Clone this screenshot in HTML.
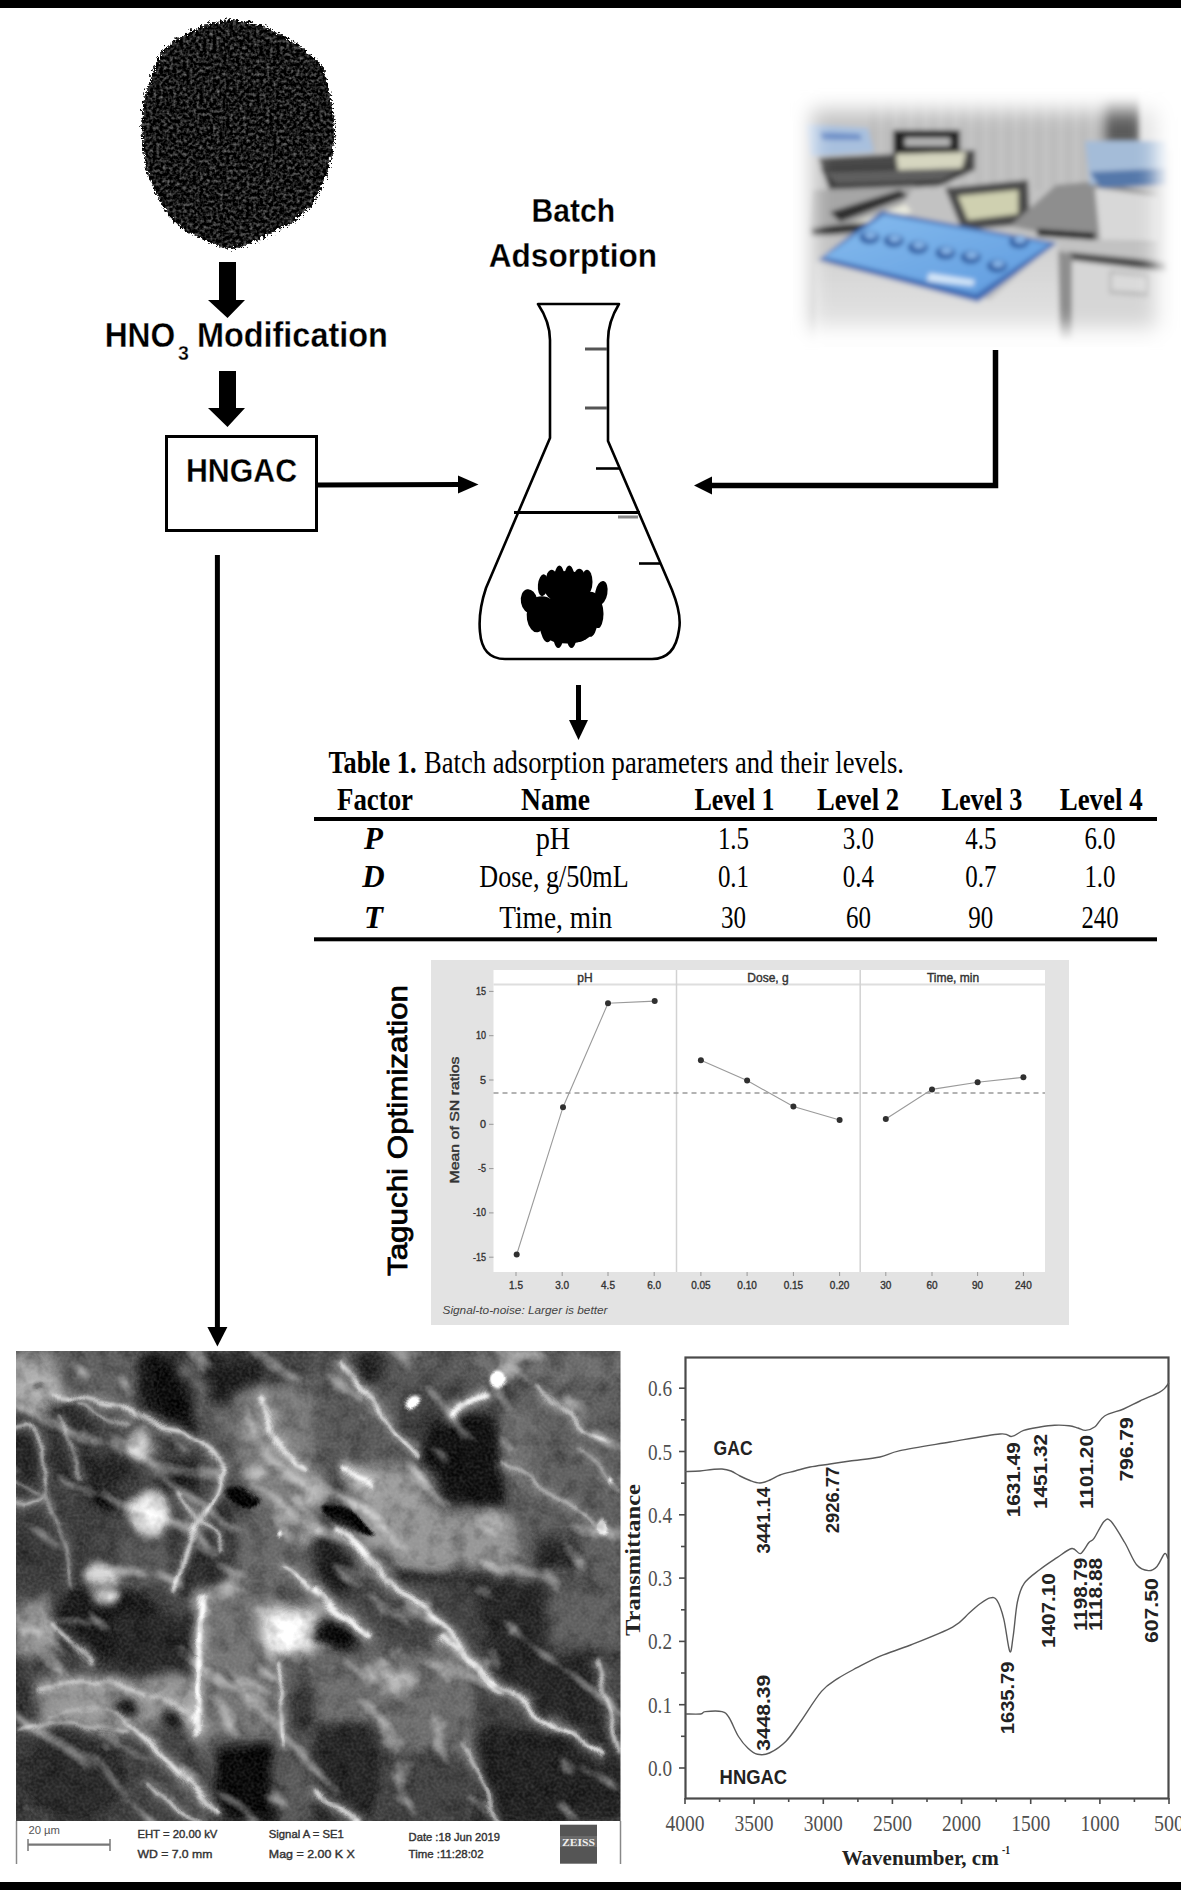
<!DOCTYPE html>
<html><head><meta charset="utf-8">
<style>
html,body{margin:0;padding:0;background:#fff;}
body{width:1181px;height:1890px;overflow:hidden;position:relative;}
svg{position:absolute;left:0;top:0;display:block;}
text{font-family:"Liberation Sans",sans-serif;}
.sf{font-family:"Liberation Serif",serif;}
</style></head>
<body>
<svg width="1181" height="1890" viewBox="0 0 1181 1890">
<rect x="0" y="0" width="1181" height="1890" fill="#fff"/>
<defs>
<filter id="rough" x="-10%" y="-10%" width="120%" height="120%">
<feTurbulence type="turbulence" baseFrequency="0.25" numOctaves="2" seed="3" result="t"/>
<feDisplacementMap in="SourceGraphic" in2="t" scale="7" xChannelSelector="R" yChannelSelector="G"/>
</filter>
<filter id="speck" x="0" y="0" width="100%" height="100%" color-interpolation-filters="sRGB">
<feTurbulence type="fractalNoise" baseFrequency="0.3" numOctaves="2" seed="11" result="n"/>
<feColorMatrix in="n" type="matrix" values="0.9 0 0 0 -0.36  0.9 0 0 0 -0.36  0.9 0 0 0 -0.36  0 0 0 0 1" result="g"/>
<feGaussianBlur in="g" stdDeviation="0.7" result="gb"/>
<feComposite in="gb" in2="SourceAlpha" operator="in"/>
</filter>
</defs>
<g filter="url(#rough)"><path d="M227.7,18.1 L246.0,20.2 L262.3,24.2 L282.6,34.4 L302.9,48.6 L321.2,64.9 L329.3,95.4 L333.4,132.0 L329.3,156.3 L325.3,172.6 L311.1,203.1 L294.8,217.3 L274.5,229.5 L250.1,241.7 L227.7,247.8 L205.4,239.7 L181.0,227.5 L164.7,211.2 L154.6,192.9 L144.4,168.5 L140.3,142.1 L139.3,119.8 L142.4,95.4 L150.5,71.0 L160.7,48.6 L174.9,36.4 L191.1,28.3 L209.4,21.2 Z" fill="#111111"/></g>
<g filter="url(#speck)"><g filter="url(#rough)"><path d="M227.7,18.1 L246.0,20.2 L262.3,24.2 L282.6,34.4 L302.9,48.6 L321.2,64.9 L329.3,95.4 L333.4,132.0 L329.3,156.3 L325.3,172.6 L311.1,203.1 L294.8,217.3 L274.5,229.5 L250.1,241.7 L227.7,247.8 L205.4,239.7 L181.0,227.5 L164.7,211.2 L154.6,192.9 L144.4,168.5 L140.3,142.1 L139.3,119.8 L142.4,95.4 L150.5,71.0 L160.7,48.6 L174.9,36.4 L191.1,28.3 L209.4,21.2 Z" fill="#000"/></g></g>
<defs>
<filter id="bblur" x="-20%" y="-20%" width="140%" height="140%"><feGaussianBlur stdDeviation="2.8"/></filter>
<filter id="bblur2" x="-20%" y="-20%" width="140%" height="140%"><feGaussianBlur stdDeviation="5"/></filter>
<filter id="vig" x="-30%" y="-30%" width="160%" height="160%"><feGaussianBlur stdDeviation="10"/></filter>
<mask id="bmask"><rect x="770" y="80" width="420" height="280" fill="#000"/><rect x="812" y="110" width="344" height="218" fill="#fff" filter="url(#vig)"/></mask>
<linearGradient id="bodyg" x1="0" y1="0" x2="0" y2="1"><stop offset="0" stop-color="#cfcfcf"/><stop offset="1" stop-color="#e8e8e8"/></linearGradient>
<linearGradient id="lidg" x1="0" y1="0" x2="1" y2="1"><stop offset="0" stop-color="#86bcee"/><stop offset="1" stop-color="#5e9ade"/></linearGradient>
</defs>
<g mask="url(#bmask)"><g filter="url(#bblur)">
<rect x="790" y="90" width="390" height="260" fill="#c2c2c2"/>
<rect x="870" y="90" width="7" height="100" fill="#bcbcbc"/>
<rect x="885" y="90" width="7" height="100" fill="#bcbcbc"/>
<rect x="900" y="90" width="7" height="100" fill="#bcbcbc"/>
<rect x="915" y="90" width="7" height="100" fill="#bcbcbc"/>
<rect x="930" y="90" width="7" height="100" fill="#bcbcbc"/>
<rect x="945" y="90" width="7" height="100" fill="#bcbcbc"/>
<rect x="960" y="90" width="7" height="100" fill="#bcbcbc"/>
<rect x="975" y="90" width="7" height="100" fill="#bcbcbc"/>
<rect x="990" y="90" width="7" height="100" fill="#bcbcbc"/>
<rect x="1005" y="90" width="7" height="100" fill="#bcbcbc"/>
<rect x="1020" y="90" width="7" height="100" fill="#bcbcbc"/>
<rect x="1035" y="90" width="7" height="100" fill="#bcbcbc"/>
<rect x="1050" y="90" width="7" height="100" fill="#bcbcbc"/>
<rect x="1065" y="90" width="7" height="100" fill="#bcbcbc"/>
<rect x="1080" y="90" width="7" height="100" fill="#bcbcbc"/>
<rect x="1095" y="90" width="7" height="100" fill="#bcbcbc"/>
<polygon points="1105,95 1140,95 1140,145 1105,145" fill="#5a5a5a" filter="url(#bblur2)"/>
<polygon points="1140,90 1180,90 1180,150 1140,150" fill="#e4e4e4"/>
<polygon points="805,124 868,128 874,152 810,156" fill="#a8c0de"/>
<polygon points="820,132 860,134 862,140 822,140" fill="#6e90c8"/>
<polygon points="818,158 975,150 975,170 940,186 830,192" fill="#4a4a4a"/>
<polygon points="820,168 972,164 945,184 832,190" fill="#3a3a3a"/>
<polygon points="826,172 962,168 942,180 836,184" fill="#5e5e5e"/>
<polygon points="893,130 960,130 960,156 893,156" fill="#202020"/>
<polygon points="905,138 950,138 950,146 905,146" fill="#b4b4b4"/>
<polygon points="896,154 966,152 962,168 898,170" fill="#d6d6c0"/>
<polygon points="812,190 915,186 880,236 808,236" fill="#a6a6a6"/>
<polygon points="830,212 900,190 908,196 840,222" fill="#2e2e2e"/>
<polygon points="845,226 905,204 912,212 860,232" fill="#e8e8dc"/>
<polygon points="810,228 870,222 872,230 812,236" fill="#2a2a2a"/>
<polygon points="945,188 1028,180 1030,224 962,230" fill="#4a4a4a"/>
<polygon points="958,196 1018,190 1018,214 968,220" fill="#cfd0b0"/>
<polygon points="1010,226 1056,185 1098,181 1158,195 1158,243 1098,240 1038,232" fill="#8e8e8e"/>
<polygon points="1095,188 1158,196 1158,242 1100,240" fill="#d8d8d8"/>
<polygon points="1037,229 1095,233 1095,240 1037,236" fill="#1e1e1e"/>
<polygon points="1085,141 1168,141 1168,178 1090,185" fill="#a4bcd8"/>
<polygon points="1090,172 1168,168 1168,185 1100,188" fill="#5478aa"/>
<polygon points="1068,255 1168,262 1168,340 1068,340" fill="#d6d6d6"/>
<polygon points="1068,252 1168,262 1168,272 1070,260" fill="#4a4a4a"/>
<polygon points="1109,270 1149,274 1149,297 1109,294" fill="#bcbcbc"/>
<polygon points="1112,274 1146,277 1146,292 1112,290" fill="#dadada"/>
<polygon points="1056,250 1072,254 1072,340 1056,340" fill="#8e8e8e"/>
<polygon points="815,262 990,300 1058,240 1060,345 815,345" fill="url(#bodyg)"/>
<polygon points="818,260 882,211 1057,243 978,302" fill="#3f6cb4"/>
<polygon points="824,257 884,215 1050,244 976,294" fill="url(#lidg)"/>
<polygon points="929,273 975,280 973,286 927,281" fill="#d4e6f8"/>
<ellipse cx="869.4" cy="237.4" rx="10" ry="6.5" fill="#2c5aa0"/>
<ellipse cx="870.4" cy="235.4" rx="6" ry="3.5" fill="#8ab8ea"/>
<ellipse cx="893.7" cy="240.7" rx="10" ry="6.5" fill="#2c5aa0"/>
<ellipse cx="894.7" cy="238.7" rx="6" ry="3.5" fill="#8ab8ea"/>
<ellipse cx="917.9" cy="247.3" rx="10" ry="6.5" fill="#2c5aa0"/>
<ellipse cx="918.9" cy="245.3" rx="6" ry="3.5" fill="#8ab8ea"/>
<ellipse cx="945.4" cy="252.8" rx="10" ry="6.5" fill="#2c5aa0"/>
<ellipse cx="946.4" cy="250.8" rx="6" ry="3.5" fill="#8ab8ea"/>
<ellipse cx="970.7" cy="257.2" rx="10" ry="6.5" fill="#2c5aa0"/>
<ellipse cx="971.7" cy="255.2" rx="6" ry="3.5" fill="#8ab8ea"/>
<ellipse cx="997" cy="266" rx="10" ry="6.5" fill="#2c5aa0"/>
<ellipse cx="998" cy="264" rx="6" ry="3.5" fill="#8ab8ea"/>
<ellipse cx="1019" cy="241.8" rx="10" ry="6.5" fill="#2c5aa0"/>
<ellipse cx="1020" cy="239.8" rx="6" ry="3.5" fill="#8ab8ea"/>
</g></g>
<!-- block arrows -->
<polygon points="219,262 236,262 236,300 245,300 227.5,318 208,300 219,300" fill="#000"/>
<polygon points="219,371 236,371 236,408 245,408 227.5,427 208,408 219,408" fill="#000"/>

<text x="104.7" y="347" font-size="34.5" font-weight="bold" textLength="70.5" lengthAdjust="spacingAndGlyphs" stroke="#fff" stroke-width="0.3">HNO</text>
<text x="177.9" y="359.7" font-size="21" font-weight="bold" textLength="10.9" lengthAdjust="spacingAndGlyphs" stroke="#fff" stroke-width="0.3">3</text>
<text x="196.9" y="347" font-size="34.5" font-weight="bold" textLength="191" lengthAdjust="spacingAndGlyphs" stroke="#fff" stroke-width="0.3">Modification</text>

<rect x="166.5" y="436.5" width="150" height="94" fill="none" stroke="#000" stroke-width="3"/>
<text x="186" y="482" font-size="34" font-weight="bold" textLength="111" lengthAdjust="spacingAndGlyphs" stroke="#fff" stroke-width="0.3">HNGAC</text>

<line x1="318" y1="485" x2="462" y2="484.5" stroke="#000" stroke-width="5"/>
<polygon points="458,475.5 478.5,484.5 458,493.5" fill="#000"/>
<line x1="217.4" y1="555" x2="217.4" y2="1328" stroke="#000" stroke-width="5"/>
<polygon points="207.4,1327 227.4,1327 217.4,1346.5" fill="#000"/>

<polyline points="995.5,350 995.5,485.5 708,485.5" fill="none" stroke="#000" stroke-width="5.5"/>
<polygon points="712,476.5 694,485.5 712,494.5" fill="#000"/>

<text x="531.5" y="221.5" font-size="33" font-weight="bold" textLength="83.6" lengthAdjust="spacingAndGlyphs" stroke="#fff" stroke-width="0.3">Batch</text>
<text x="488.8" y="267.3" font-size="33" font-weight="bold" textLength="168.2" lengthAdjust="spacingAndGlyphs" stroke="#fff" stroke-width="0.3">Adsorption</text>

<g fill="none" stroke="#000" stroke-width="2.6" stroke-linejoin="round">
<path d="M538,304 L619,304 Q608,322 608,340 L608,441 L672,590 Q682,615 679,630 Q675,659 652,659 L505,659 Q482,659 480,632 Q478,612 486,588 L550,438 L550,340 Q550,322 538,304 Z"/>
<line x1="514" y1="512.5" x2="640" y2="512.5" stroke-width="3.2"/>
<line x1="585" y1="349" x2="607" y2="349" stroke="#555" stroke-width="3"/>
<line x1="585" y1="408" x2="607" y2="408" stroke="#555" stroke-width="3"/>
<line x1="596" y1="468.5" x2="620" y2="468.5" stroke-width="2.6"/>
<line x1="618" y1="517" x2="638" y2="517" stroke="#888" stroke-width="3"/>
<line x1="639" y1="563.5" x2="660" y2="563.5" stroke-width="2.6"/>
</g>
<g fill="#000">
<ellipse cx="564.9" cy="614.9" rx="36.3" ry="16.5"/>
<ellipse cx="567.1" cy="629.3" rx="26.4" ry="14.3"/>
<ellipse cx="567.1" cy="587.4" rx="23.1" ry="16.5"/>
<ellipse cx="541.8" cy="607.2" rx="13.2" ry="11.0"/>
<ellipse cx="590.3" cy="605.0" rx="11.0" ry="13.2"/>
<ellipse cx="529.2" cy="601.2" rx="8.3" ry="12.1" transform="rotate(-10 529.2 601.2)"/>
<ellipse cx="542.9" cy="585.2" rx="5.0" ry="11.0" transform="rotate(5 542.9 585.2)"/>
<ellipse cx="551.7" cy="581.9" rx="6.1" ry="12.1" transform="rotate(0 551.7 581.9)"/>
<ellipse cx="559.4" cy="586.3" rx="6.1" ry="20.9" transform="rotate(0 559.4 586.3)"/>
<ellipse cx="569.3" cy="586.3" rx="6.1" ry="20.9" transform="rotate(0 569.3 586.3)"/>
<ellipse cx="579.3" cy="583.0" rx="6.6" ry="14.3" transform="rotate(0 579.3 583.0)"/>
<ellipse cx="587.0" cy="581.9" rx="5.5" ry="12.1" transform="rotate(0 587.0 581.9)"/>
<ellipse cx="601.3" cy="592.9" rx="6.1" ry="12.1" transform="rotate(10 601.3 592.9)"/>
<ellipse cx="535.2" cy="618.2" rx="8.3" ry="14.3" transform="rotate(-10 535.2 618.2)"/>
<ellipse cx="546.2" cy="624.8" rx="6.6" ry="17.6" transform="rotate(-5 546.2 624.8)"/>
<ellipse cx="558.3" cy="627.1" rx="6.1" ry="20.9" transform="rotate(0 558.3 627.1)"/>
<ellipse cx="571.5" cy="627.1" rx="6.1" ry="20.9" transform="rotate(0 571.5 627.1)"/>
<ellipse cx="581.5" cy="622.6" rx="6.6" ry="18.7" transform="rotate(0 581.5 622.6)"/>
<ellipse cx="591.4" cy="620.4" rx="6.6" ry="16.5" transform="rotate(5 591.4 620.4)"/>
<ellipse cx="598.0" cy="613.8" rx="5.5" ry="14.3" transform="rotate(0 598.0 613.8)"/>
<ellipse cx="566.0" cy="605.0" rx="16.5" ry="22.0" transform="rotate(0 566.0 605.0)"/>
</g>
<line x1="578.5" y1="685" x2="578.5" y2="724" stroke="#000" stroke-width="5"/>
<polygon points="569,720 588,720 578.5,740" fill="#000"/>
<text x="328.5" y="773" font-size="31" font-weight="bold" font-style="normal" fill="#000" text-anchor="start" textLength="88" lengthAdjust="spacingAndGlyphs" class="sf">Table 1.</text>
<text x="424" y="773" font-size="31" font-weight="normal" font-style="normal" fill="#000" text-anchor="start" textLength="480" lengthAdjust="spacingAndGlyphs" class="sf">Batch adsorption parameters and their levels.</text>
<text x="337" y="810" font-size="31" font-weight="bold" font-style="normal" fill="#000" text-anchor="start" textLength="76" lengthAdjust="spacingAndGlyphs" class="sf">Factor</text>
<text x="521" y="810" font-size="31" font-weight="bold" font-style="normal" fill="#000" text-anchor="start" textLength="69" lengthAdjust="spacingAndGlyphs" class="sf">Name</text>
<text x="694.5" y="810" font-size="31" font-weight="bold" font-style="normal" fill="#000" text-anchor="start" textLength="80.1" lengthAdjust="spacingAndGlyphs" class="sf">Level 1</text>
<text x="817" y="810" font-size="31" font-weight="bold" font-style="normal" fill="#000" text-anchor="start" textLength="82" lengthAdjust="spacingAndGlyphs" class="sf">Level 2</text>
<text x="941.4" y="810" font-size="31" font-weight="bold" font-style="normal" fill="#000" text-anchor="start" textLength="80.9" lengthAdjust="spacingAndGlyphs" class="sf">Level 3</text>
<text x="1059.7" y="810" font-size="31" font-weight="bold" font-style="normal" fill="#000" text-anchor="start" textLength="82.9" lengthAdjust="spacingAndGlyphs" class="sf">Level 4</text>
<rect x="314" y="817" width="843" height="4" fill="#000"/>
<rect x="314" y="937.3" width="843" height="4" fill="#000"/>
<text x="373.5" y="849" font-size="31" font-weight="bold" font-style="italic" fill="#000" text-anchor="middle" class="sf">P</text>
<text x="535.7" y="849" font-size="31" font-weight="normal" font-style="normal" fill="#000" text-anchor="start" textLength="34.6" lengthAdjust="spacingAndGlyphs" class="sf">pH</text>
<text x="733.5" y="849" font-size="31" font-weight="normal" font-style="normal" fill="#000" text-anchor="middle" textLength="31.2" lengthAdjust="spacingAndGlyphs" class="sf">1.5</text>
<text x="858.4" y="849" font-size="31" font-weight="normal" font-style="normal" fill="#000" text-anchor="middle" textLength="31.2" lengthAdjust="spacingAndGlyphs" class="sf">3.0</text>
<text x="980.8" y="849" font-size="31" font-weight="normal" font-style="normal" fill="#000" text-anchor="middle" textLength="31.2" lengthAdjust="spacingAndGlyphs" class="sf">4.5</text>
<text x="1100" y="849" font-size="31" font-weight="normal" font-style="normal" fill="#000" text-anchor="middle" textLength="31.2" lengthAdjust="spacingAndGlyphs" class="sf">6.0</text>
<text x="373.5" y="886.5" font-size="31" font-weight="bold" font-style="italic" fill="#000" text-anchor="middle" class="sf">D</text>
<text x="479.3" y="886.5" font-size="31" font-weight="normal" font-style="normal" fill="#000" text-anchor="start" textLength="149.3" lengthAdjust="spacingAndGlyphs" class="sf">Dose, g/50mL</text>
<text x="733.5" y="886.5" font-size="31" font-weight="normal" font-style="normal" fill="#000" text-anchor="middle" textLength="31.2" lengthAdjust="spacingAndGlyphs" class="sf">0.1</text>
<text x="858.4" y="886.5" font-size="31" font-weight="normal" font-style="normal" fill="#000" text-anchor="middle" textLength="31.2" lengthAdjust="spacingAndGlyphs" class="sf">0.4</text>
<text x="980.8" y="886.5" font-size="31" font-weight="normal" font-style="normal" fill="#000" text-anchor="middle" textLength="31.2" lengthAdjust="spacingAndGlyphs" class="sf">0.7</text>
<text x="1100" y="886.5" font-size="31" font-weight="normal" font-style="normal" fill="#000" text-anchor="middle" textLength="31.2" lengthAdjust="spacingAndGlyphs" class="sf">1.0</text>
<text x="373.5" y="928" font-size="31" font-weight="bold" font-style="italic" fill="#000" text-anchor="middle" class="sf">T</text>
<text x="499.3" y="928" font-size="31" font-weight="normal" font-style="normal" fill="#000" text-anchor="start" textLength="112.9" lengthAdjust="spacingAndGlyphs" class="sf">Time, min</text>
<text x="733.5" y="928" font-size="31" font-weight="normal" font-style="normal" fill="#000" text-anchor="middle" textLength="25" lengthAdjust="spacingAndGlyphs" class="sf">30</text>
<text x="858.4" y="928" font-size="31" font-weight="normal" font-style="normal" fill="#000" text-anchor="middle" textLength="25" lengthAdjust="spacingAndGlyphs" class="sf">60</text>
<text x="980.8" y="928" font-size="31" font-weight="normal" font-style="normal" fill="#000" text-anchor="middle" textLength="25" lengthAdjust="spacingAndGlyphs" class="sf">90</text>
<text x="1100" y="928" font-size="31" font-weight="normal" font-style="normal" fill="#000" text-anchor="middle" textLength="37" lengthAdjust="spacingAndGlyphs" class="sf">240</text>
<rect x="431" y="960" width="638" height="365" fill="#e3e3e3"/>
<rect x="493.5" y="970" width="551.5" height="302" fill="#fff"/>
<line x1="493.5" y1="984.5" x2="1045" y2="984.5" stroke="#dedede" stroke-width="2"/>
<line x1="676.5" y1="970" x2="676.5" y2="1272" stroke="#d2d2d2" stroke-width="1.5"/>
<line x1="860.2" y1="970" x2="860.2" y2="1272" stroke="#d2d2d2" stroke-width="1.5"/>
<line x1="489" y1="991.4" x2="493.5" y2="991.4" stroke="#999" stroke-width="1"/>
<text x="486" y="994.9" font-size="10" font-weight="normal" font-style="normal" fill="#333" text-anchor="end" textLength="10" lengthAdjust="spacingAndGlyphs" stroke="#333" stroke-width="0.35">15</text>
<line x1="489" y1="1035.7" x2="493.5" y2="1035.7" stroke="#999" stroke-width="1"/>
<text x="486" y="1039.2" font-size="10" font-weight="normal" font-style="normal" fill="#333" text-anchor="end" textLength="10" lengthAdjust="spacingAndGlyphs" stroke="#333" stroke-width="0.35">10</text>
<line x1="489" y1="1080.0" x2="493.5" y2="1080.0" stroke="#999" stroke-width="1"/>
<text x="486" y="1083.5" font-size="10" font-weight="normal" font-style="normal" fill="#333" text-anchor="end" textLength="6" lengthAdjust="spacingAndGlyphs" stroke="#333" stroke-width="0.35">5</text>
<line x1="489" y1="1124.3" x2="493.5" y2="1124.3" stroke="#999" stroke-width="1"/>
<text x="486" y="1127.8" font-size="10" font-weight="normal" font-style="normal" fill="#333" text-anchor="end" textLength="6" lengthAdjust="spacingAndGlyphs" stroke="#333" stroke-width="0.35">0</text>
<line x1="489" y1="1168.6" x2="493.5" y2="1168.6" stroke="#999" stroke-width="1"/>
<text x="486" y="1172.1" font-size="10" font-weight="normal" font-style="normal" fill="#333" text-anchor="end" textLength="8" lengthAdjust="spacingAndGlyphs" stroke="#333" stroke-width="0.35">-5</text>
<line x1="489" y1="1212.9" x2="493.5" y2="1212.9" stroke="#999" stroke-width="1"/>
<text x="486" y="1216.4" font-size="10" font-weight="normal" font-style="normal" fill="#333" text-anchor="end" textLength="13" lengthAdjust="spacingAndGlyphs" stroke="#333" stroke-width="0.35">-10</text>
<line x1="489" y1="1257.2" x2="493.5" y2="1257.2" stroke="#999" stroke-width="1"/>
<text x="486" y="1260.7" font-size="10" font-weight="normal" font-style="normal" fill="#333" text-anchor="end" textLength="13" lengthAdjust="spacingAndGlyphs" stroke="#333" stroke-width="0.35">-15</text>
<text x="585" y="981.5" font-size="12" font-weight="normal" font-style="normal" fill="#333" text-anchor="middle" stroke="#333" stroke-width="0.4">pH</text>
<text x="768" y="981.5" font-size="12" font-weight="normal" font-style="normal" fill="#333" text-anchor="middle" stroke="#333" stroke-width="0.4">Dose, g</text>
<text x="953" y="981.5" font-size="12" font-weight="normal" font-style="normal" fill="#333" text-anchor="middle" stroke="#333" stroke-width="0.4">Time, min</text>
<line x1="493.5" y1="1093" x2="1045" y2="1093" stroke="#9a9a9a" stroke-width="1.3" stroke-dasharray="5,4"/>
<polyline points="516.7,1254.5 563,1107.2 608,1003.3 654.7,1001.1" fill="none" stroke="#9a9a9a" stroke-width="1.1"/>
<circle cx="516.7" cy="1254.5" r="3" fill="#303030"/>
<circle cx="563" cy="1107.2" r="3" fill="#303030"/>
<circle cx="608" cy="1003.3" r="3" fill="#303030"/>
<circle cx="654.7" cy="1001.1" r="3" fill="#303030"/>
<polyline points="700.9,1060.2 747.1,1080.5 793.4,1106.6 839.6,1120.0" fill="none" stroke="#9a9a9a" stroke-width="1.1"/>
<circle cx="700.9" cy="1060.2" r="3" fill="#303030"/>
<circle cx="747.1" cy="1080.5" r="3" fill="#303030"/>
<circle cx="793.4" cy="1106.6" r="3" fill="#303030"/>
<circle cx="839.6" cy="1120.0" r="3" fill="#303030"/>
<polyline points="885.8,1119.0 932,1089.4 977.6,1082.3 1023.4,1077.3" fill="none" stroke="#9a9a9a" stroke-width="1.1"/>
<circle cx="885.8" cy="1119.0" r="3" fill="#303030"/>
<circle cx="932" cy="1089.4" r="3" fill="#303030"/>
<circle cx="977.6" cy="1082.3" r="3" fill="#303030"/>
<circle cx="1023.4" cy="1077.3" r="3" fill="#303030"/>
<line x1="516" y1="1272" x2="516" y2="1276" stroke="#999" stroke-width="1"/>
<text x="516" y="1288.5" font-size="10" font-weight="normal" font-style="normal" fill="#333" text-anchor="middle" stroke="#333" stroke-width="0.35">1.5</text>
<line x1="562.2" y1="1272" x2="562.2" y2="1276" stroke="#999" stroke-width="1"/>
<text x="562.2" y="1288.5" font-size="10" font-weight="normal" font-style="normal" fill="#333" text-anchor="middle" stroke="#333" stroke-width="0.35">3.0</text>
<line x1="608" y1="1272" x2="608" y2="1276" stroke="#999" stroke-width="1"/>
<text x="608" y="1288.5" font-size="10" font-weight="normal" font-style="normal" fill="#333" text-anchor="middle" stroke="#333" stroke-width="0.35">4.5</text>
<line x1="654.2" y1="1272" x2="654.2" y2="1276" stroke="#999" stroke-width="1"/>
<text x="654.2" y="1288.5" font-size="10" font-weight="normal" font-style="normal" fill="#333" text-anchor="middle" stroke="#333" stroke-width="0.35">6.0</text>
<line x1="700.9" y1="1272" x2="700.9" y2="1276" stroke="#999" stroke-width="1"/>
<text x="700.9" y="1288.5" font-size="10" font-weight="normal" font-style="normal" fill="#333" text-anchor="middle" stroke="#333" stroke-width="0.35">0.05</text>
<line x1="747.1" y1="1272" x2="747.1" y2="1276" stroke="#999" stroke-width="1"/>
<text x="747.1" y="1288.5" font-size="10" font-weight="normal" font-style="normal" fill="#333" text-anchor="middle" stroke="#333" stroke-width="0.35">0.10</text>
<line x1="793.4" y1="1272" x2="793.4" y2="1276" stroke="#999" stroke-width="1"/>
<text x="793.4" y="1288.5" font-size="10" font-weight="normal" font-style="normal" fill="#333" text-anchor="middle" stroke="#333" stroke-width="0.35">0.15</text>
<line x1="839.6" y1="1272" x2="839.6" y2="1276" stroke="#999" stroke-width="1"/>
<text x="839.6" y="1288.5" font-size="10" font-weight="normal" font-style="normal" fill="#333" text-anchor="middle" stroke="#333" stroke-width="0.35">0.20</text>
<line x1="885.8" y1="1272" x2="885.8" y2="1276" stroke="#999" stroke-width="1"/>
<text x="885.8" y="1288.5" font-size="10" font-weight="normal" font-style="normal" fill="#333" text-anchor="middle" stroke="#333" stroke-width="0.35">30</text>
<line x1="932" y1="1272" x2="932" y2="1276" stroke="#999" stroke-width="1"/>
<text x="932" y="1288.5" font-size="10" font-weight="normal" font-style="normal" fill="#333" text-anchor="middle" stroke="#333" stroke-width="0.35">60</text>
<line x1="977.6" y1="1272" x2="977.6" y2="1276" stroke="#999" stroke-width="1"/>
<text x="977.6" y="1288.5" font-size="10" font-weight="normal" font-style="normal" fill="#333" text-anchor="middle" stroke="#333" stroke-width="0.35">90</text>
<line x1="1023.4" y1="1272" x2="1023.4" y2="1276" stroke="#999" stroke-width="1"/>
<text x="1023.4" y="1288.5" font-size="10" font-weight="normal" font-style="normal" fill="#333" text-anchor="middle" stroke="#333" stroke-width="0.35">240</text>
<text x="0" y="0" font-size="12" font-weight="normal" font-style="normal" fill="#333" text-anchor="middle" textLength="127" lengthAdjust="spacingAndGlyphs" stroke="#333" stroke-width="0.4" transform="translate(458.5,1120) rotate(-90)">Mean of SN ratios</text>
<text x="442.5" y="1314" font-size="10" font-weight="normal" font-style="italic" fill="#444" text-anchor="start" textLength="165" lengthAdjust="spacingAndGlyphs">Signal-to-noise: Larger is better</text>
<text x="0" y="0" font-size="28" font-weight="normal" font-style="normal" fill="#000" text-anchor="start" textLength="291" lengthAdjust="spacingAndGlyphs" stroke="#000" stroke-width="0.8" transform="translate(407,1276) rotate(-90)">Taguchi Optimization</text>
<defs>
<clipPath id="semclip"><rect x="16" y="1351" width="604.5" height="470"/></clipPath>
<filter id="sb" filterUnits="userSpaceOnUse" x="-600" y="-600" width="2400" height="2100"><feGaussianBlur stdDeviation="22"/></filter>
<filter id="sb2" filterUnits="userSpaceOnUse" x="-600" y="-600" width="2400" height="2100"><feGaussianBlur stdDeviation="7"/></filter>
<filter id="sb3" filterUnits="userSpaceOnUse" x="-600" y="-600" width="2400" height="2100"><feGaussianBlur stdDeviation="18"/></filter>
<filter id="warp" x="0" y="0" width="100%" height="100%"><feTurbulence type="fractalNoise" baseFrequency="0.025" numOctaves="2" seed="5" result="t"/><feDisplacementMap in="SourceGraphic" in2="t" scale="18" xChannelSelector="R" yChannelSelector="G"/></filter>
<filter id="semnoise" x="0" y="0" width="100%" height="100%">
<feTurbulence type="fractalNoise" baseFrequency="0.35" numOctaves="1" seed="7" result="n"/>
<feColorMatrix in="n" type="matrix" values="0 0 0 0 0.5  0 0 0 0 0.5  0 0 0 0 0.5  1.6 0 0 0 -0.55" />
</filter>
<filter id="semnoise2" x="0" y="0" width="100%" height="100%">
<feTurbulence type="fractalNoise" baseFrequency="0.06" numOctaves="3" seed="17" result="n"/>
<feColorMatrix in="n" type="matrix" values="0 0 0 0 0  0 0 0 0 0  0 0 0 0 0  1.4 0 0 0 -0.6" />
</filter>
<filter id="veins" x="0" y="0" width="100%" height="100%">
<feTurbulence type="turbulence" baseFrequency="0.006 0.016" numOctaves="3" seed="21" result="n"/>
<feColorMatrix in="n" type="matrix" values="-7 0 0 0 0.9  -7 0 0 0 0.9  -7 0 0 0 0.9  0 0 0 0 1"/>
<feGaussianBlur stdDeviation="1.5"/>
</filter>
<filter id="semcontrast" x="0" y="0" width="100%" height="100%" color-interpolation-filters="sRGB">
<feComponentTransfer><feFuncR type="linear" slope="1.3" intercept="-0.115"/><feFuncG type="linear" slope="1.3" intercept="-0.115"/><feFuncB type="linear" slope="1.3" intercept="-0.115"/></feComponentTransfer>
</filter>
</defs>
<g clip-path="url(#semclip)"><g filter="url(#semcontrast)">
<rect x="16" y="1351" width="605" height="470" fill="#4a4a4a"/>
<g filter="url(#warp)"><rect x="0" y="1330" width="640" height="510" fill="#4a4a4a"/>
<g transform="translate(14,1348) scale(0.26247)">
<polygon points="0,0 500,0 500,200 0,200" fill="#5e5e5e" filter="url(#sb)"/>
<ellipse cx="60" cy="140" rx="110" ry="120" fill="#9a9a9a" filter="url(#sb)" transform="rotate(0 60 140)"/>
<polygon points="480,20 720,20 720,300 480,300" fill="#262626" filter="url(#sb)"/>
<polygon points="530,60 680,60 680,260 530,260" fill="#1a1a1a" filter="url(#sb)"/>
<polygon points="600,40 700,30 860,330 780,360" fill="#6a6a6a" filter="url(#sb)"/>
<polygon points="730,40 930,40 930,210 730,210" fill="#2a2a2a" filter="url(#sb)"/>
<polygon points="830,160 1181,120 1181,650 950,650 830,420" fill="#747474" filter="url(#sb)"/>
<polygon points="950,380 1181,380 1181,650 950,650" fill="#7c7c7c" filter="url(#sb)"/>
<polygon points="830,650 1181,650 1181,914 830,914" fill="#666666" filter="url(#sb)"/>
<ellipse cx="40" cy="420" rx="90" ry="130" fill="#303030" filter="url(#sb)" transform="rotate(0 40 420)"/>
<polygon points="130,200 280,200 280,520 130,520" fill="#353535" filter="url(#sb)"/>
<polygon points="280,400 450,400 450,520 280,520" fill="#2e2e2e" filter="url(#sb)"/>
<polygon points="560,420 700,420 700,560 560,560" fill="#2a2a2a" filter="url(#sb)"/>
<polygon points="600,700 720,700 720,914 600,914" fill="#303030" filter="url(#sb)"/>
<polygon points="0,600 300,600 300,914 0,914" fill="#424242" filter="url(#sb)"/>
<polygon points="400,720 600,720 600,914 400,914" fill="#5a5a5a" filter="url(#sb)"/>
<polygon points="700,600 830,600 830,914 700,914" fill="#3a3a3a" filter="url(#sb)"/>
<ellipse cx="335" cy="580" rx="70" ry="45" fill="#1c1c1c" filter="url(#sb3)" transform="rotate(35 335 580)"/>
<ellipse cx="875" cy="570" rx="80" ry="30" fill="#161616" filter="url(#sb2)" transform="rotate(25 875 570)"/>
<polyline points="150,170 300,200 400,220 440,270 530,300 650,320 760,400 800,460 770,560 720,620 690,700 640,800 600,914" fill="none" stroke="#c4c4c4" stroke-opacity="0.5" stroke-width="35.0" stroke-linecap="round" stroke-linejoin="round" filter="url(#sb3)"/>
<polyline points="150,170 300,200 400,220 440,270 530,300 650,320 760,400 800,460 770,560 720,620 690,700 640,800 600,914" fill="none" stroke="#c4c4c4" stroke-width="14.0" stroke-linecap="round" stroke-linejoin="round" filter="url(#sb2)"/>
<polyline points="940,200 980,280 1000,350 1060,420 1100,440" fill="none" stroke="#cccccc" stroke-opacity="0.5" stroke-width="42.0" stroke-linecap="round" stroke-linejoin="round" filter="url(#sb3)"/>
<polyline points="940,200 980,280 1000,350 1060,420 1100,440" fill="none" stroke="#cccccc" stroke-width="16.799999999999997" stroke-linecap="round" stroke-linejoin="round" filter="url(#sb2)"/>
<polyline points="0,330 60,310 120,380 130,480 100,560 40,590 0,580" fill="none" stroke="#a8a8a8" stroke-opacity="0.5" stroke-width="31.5" stroke-linecap="round" stroke-linejoin="round" filter="url(#sb3)"/>
<polyline points="0,330 60,310 120,380 130,480 100,560 40,590 0,580" fill="none" stroke="#a8a8a8" stroke-width="12.6" stroke-linecap="round" stroke-linejoin="round" filter="url(#sb2)"/>
<polyline points="160,250 200,330 240,420 250,500" fill="none" stroke="#9a9a9a" stroke-opacity="0.5" stroke-width="24.5" stroke-linecap="round" stroke-linejoin="round" filter="url(#sb3)"/>
<polyline points="160,250 200,330 240,420 250,500" fill="none" stroke="#9a9a9a" stroke-width="9.799999999999999" stroke-linecap="round" stroke-linejoin="round" filter="url(#sb2)"/>
<polyline points="0,500 100,560 150,640 200,760 230,914" fill="none" stroke="#9a9a9a" stroke-opacity="0.5" stroke-width="24.5" stroke-linecap="round" stroke-linejoin="round" filter="url(#sb3)"/>
<polyline points="0,500 100,560 150,640 200,760 230,914" fill="none" stroke="#9a9a9a" stroke-width="9.799999999999999" stroke-linecap="round" stroke-linejoin="round" filter="url(#sb2)"/>
<polyline points="1030,840 1120,914" fill="none" stroke="#cccccc" stroke-opacity="0.5" stroke-width="42.0" stroke-linecap="round" stroke-linejoin="round" filter="url(#sb3)"/>
<polyline points="1030,840 1120,914" fill="none" stroke="#cccccc" stroke-width="16.799999999999997" stroke-linecap="round" stroke-linejoin="round" filter="url(#sb2)"/>
<polyline points="640,560 700,650 760,720 780,780" fill="none" stroke="#b0b0b0" stroke-opacity="0.5" stroke-width="31.5" stroke-linecap="round" stroke-linejoin="round" filter="url(#sb3)"/>
<polyline points="640,560 700,650 760,720 780,780" fill="none" stroke="#b0b0b0" stroke-width="12.6" stroke-linecap="round" stroke-linejoin="round" filter="url(#sb2)"/>
<polyline points="240,210 330,260 420,300" fill="none" stroke="#a0a0a0" stroke-opacity="0.5" stroke-width="24.5" stroke-linecap="round" stroke-linejoin="round" filter="url(#sb3)"/>
<polyline points="240,210 330,260 420,300" fill="none" stroke="#a0a0a0" stroke-width="9.799999999999999" stroke-linecap="round" stroke-linejoin="round" filter="url(#sb2)"/>
<ellipse cx="100" cy="140" rx="40" ry="40" fill="#a8a8a8" filter="url(#sb3)" transform="rotate(0 100 140)"/>
<ellipse cx="100" cy="140" rx="16" ry="16" fill="#7a7a7a" filter="url(#sb2)" transform="rotate(0 100 140)"/>
<ellipse cx="480" cy="370" rx="50" ry="50" fill="#bcbcbc" filter="url(#sb3)" transform="rotate(0 480 370)"/>
<ellipse cx="520" cy="630" rx="80" ry="90" fill="#d2d2d2" filter="url(#sb3)" transform="rotate(0 520 630)"/>
<ellipse cx="1010" cy="700" rx="10" ry="10" fill="#f4f4f4" filter="url(#sb2)" transform="rotate(0 1010 700)"/>
<ellipse cx="1140" cy="720" rx="40" ry="40" fill="#bcbcbc" filter="url(#sb3)" transform="rotate(0 1140 720)"/>
<ellipse cx="340" cy="870" rx="60" ry="50" fill="#c4c4c4" filter="url(#sb3)" transform="rotate(0 340 870)"/>
<ellipse cx="920" cy="480" rx="40" ry="30" fill="#b0b0b0" filter="url(#sb3)" transform="rotate(0 920 480)"/>
</g>
<g transform="translate(314,1348) scale(0.26247)">
<polygon points="0,0 330,0 330,470 0,470" fill="#5a5a5a" filter="url(#sb)"/>
<polygon points="160,20 260,20 260,140 160,140" fill="#2a2a2a" filter="url(#sb)"/>
<polygon points="330,0 600,0 600,150 330,150" fill="#5a5a5a" filter="url(#sb)"/>
<polygon points="600,0 900,0 900,120 600,120" fill="#6a6a6a" filter="url(#sb)"/>
<polygon points="900,0 1181,0 1181,150 900,150" fill="#6a6a6a" filter="url(#sb)"/>
<polygon points="420,260 720,260 720,600 500,600 420,420" fill="#222222" filter="url(#sb)"/>
<polygon points="120,450 450,470 460,800 200,780 120,620" fill="#909090" filter="url(#sb)"/>
<polygon points="0,700 140,700 140,914 0,914" fill="#2a2a2a" filter="url(#sb)"/>
<polygon points="300,620 800,620 800,870 300,870" fill="#8a8a8a" filter="url(#sb)"/>
<polygon points="760,150 1181,150 1181,914 760,914" fill="#5e5e5e" filter="url(#sb)"/>
<polygon points="720,250 850,250 850,500 720,500" fill="#6a6a6a" filter="url(#sb)"/>
<polygon points="850,720 1000,720 1000,850 850,850" fill="#303030" filter="url(#sb)"/>
<polygon points="300,850 700,850 700,914 300,914" fill="#333333" filter="url(#sb)"/>
<ellipse cx="130" cy="660" rx="100" ry="35" fill="#161616" filter="url(#sb2)" transform="rotate(30 130 660)"/>
<polyline points="100,60 250,250 400,420" fill="none" stroke="#c4c4c4" stroke-opacity="0.5" stroke-width="42.0" stroke-linecap="round" stroke-linejoin="round" filter="url(#sb3)"/>
<polyline points="100,60 250,250 400,420" fill="none" stroke="#c4c4c4" stroke-width="16.799999999999997" stroke-linecap="round" stroke-linejoin="round" filter="url(#sb2)"/>
<polyline points="530,250 660,170" fill="none" stroke="#d4d4d4" stroke-opacity="0.5" stroke-width="56.0" stroke-linecap="round" stroke-linejoin="round" filter="url(#sb3)"/>
<polyline points="530,250 660,170" fill="none" stroke="#d4d4d4" stroke-width="22.4" stroke-linecap="round" stroke-linejoin="round" filter="url(#sb2)"/>
<polyline points="120,480 230,510" fill="none" stroke="#d8d8d8" stroke-opacity="0.5" stroke-width="49.0" stroke-linecap="round" stroke-linejoin="round" filter="url(#sb3)"/>
<polyline points="120,480 230,510" fill="none" stroke="#d8d8d8" stroke-width="19.599999999999998" stroke-linecap="round" stroke-linejoin="round" filter="url(#sb2)"/>
<polyline points="80,690 200,800 300,914" fill="none" stroke="#cccccc" stroke-opacity="0.5" stroke-width="49.0" stroke-linecap="round" stroke-linejoin="round" filter="url(#sb3)"/>
<polyline points="80,690 200,800 300,914" fill="none" stroke="#cccccc" stroke-width="19.599999999999998" stroke-linecap="round" stroke-linejoin="round" filter="url(#sb2)"/>
<polyline points="850,150 980,250 1100,350" fill="none" stroke="#b4b4b4" stroke-opacity="0.5" stroke-width="35.0" stroke-linecap="round" stroke-linejoin="round" filter="url(#sb3)"/>
<polyline points="850,150 980,250 1100,350" fill="none" stroke="#b4b4b4" stroke-width="14.0" stroke-linecap="round" stroke-linejoin="round" filter="url(#sb2)"/>
<polyline points="720,420 850,520 1000,620 1100,700" fill="none" stroke="#a8a8a8" stroke-opacity="0.5" stroke-width="28.0" stroke-linecap="round" stroke-linejoin="round" filter="url(#sb3)"/>
<polyline points="720,420 850,520 1000,620 1100,700" fill="none" stroke="#a8a8a8" stroke-width="11.2" stroke-linecap="round" stroke-linejoin="round" filter="url(#sb2)"/>
<polyline points="1000,380 1080,440 1160,560" fill="none" stroke="#a0a0a0" stroke-opacity="0.5" stroke-width="24.5" stroke-linecap="round" stroke-linejoin="round" filter="url(#sb3)"/>
<polyline points="1000,380 1080,440 1160,560" fill="none" stroke="#a0a0a0" stroke-width="9.799999999999999" stroke-linecap="round" stroke-linejoin="round" filter="url(#sb2)"/>
<ellipse cx="370" cy="195" rx="22" ry="25" fill="#f0f0f0" filter="url(#sb2)" transform="rotate(0 370 195)"/>
<ellipse cx="700" cy="115" rx="30" ry="28" fill="#f4f4f4" filter="url(#sb2)" transform="rotate(0 700 115)"/>
<ellipse cx="1135" cy="515" rx="8" ry="8" fill="#f4f4f4" filter="url(#sb2)" transform="rotate(0 1135 515)"/>
<ellipse cx="1100" cy="685" rx="22" ry="35" fill="#c8c8c8" filter="url(#sb2)" transform="rotate(0 1100 685)"/>
</g>
<g transform="translate(14,1584) scale(0.26247)">
<polygon points="0,60 150,60 150,280 0,280" fill="#8a8a8a" filter="url(#sb)"/>
<ellipse cx="355" cy="150" rx="210" ry="150" fill="#262626" filter="url(#sb)" transform="rotate(0 355 150)"/>
<polygon points="380,120 700,120 700,480 380,480" fill="#333333" filter="url(#sb)"/>
<polygon points="100,350 700,350 700,550 100,550" fill="#888888" filter="url(#sb)"/>
<polygon points="680,0 1000,0 1000,750 760,750 700,560" fill="#707070" filter="url(#sb)"/>
<polygon points="950,80 1181,80 1181,280 960,280" fill="#cdcdcd" filter="url(#sb)"/>
<polygon points="760,600 1000,600 1000,914 760,914" fill="#1a1a1a" filter="url(#sb)"/>
<ellipse cx="225" cy="730" rx="200" ry="190" fill="#353535" filter="url(#sb)" transform="rotate(0 225 730)"/>
<polygon points="1000,300 1181,300 1181,914 1000,914" fill="#5a5a5a" filter="url(#sb)"/>
<polygon points="1050,400 1181,400 1181,560 1050,560" fill="#3a3a3a" filter="url(#sb)"/>
<polygon points="0,280 50,280 50,914 0,914" fill="#3a3a3a" filter="url(#sb)"/>
<ellipse cx="430" cy="475" rx="50" ry="45" fill="#222222" filter="url(#sb3)" transform="rotate(0 430 475)"/>
<ellipse cx="605" cy="520" rx="45" ry="40" fill="#222222" filter="url(#sb3)" transform="rotate(0 605 520)"/>
<polyline points="150,150 220,220 300,300" fill="none" stroke="#b4b4b4" stroke-opacity="0.5" stroke-width="35.0" stroke-linecap="round" stroke-linejoin="round" filter="url(#sb3)"/>
<polyline points="150,150 220,220 300,300" fill="none" stroke="#b4b4b4" stroke-width="14.0" stroke-linecap="round" stroke-linejoin="round" filter="url(#sb2)"/>
<polyline points="100,400 250,370 400,380 550,420 700,520" fill="none" stroke="#b8b8b8" stroke-opacity="0.5" stroke-width="28.0" stroke-linecap="round" stroke-linejoin="round" filter="url(#sb3)"/>
<polyline points="100,400 250,370 400,380 550,420 700,520" fill="none" stroke="#b8b8b8" stroke-width="11.2" stroke-linecap="round" stroke-linejoin="round" filter="url(#sb2)"/>
<polyline points="150,500 300,470 450,520" fill="none" stroke="#a8a8a8" stroke-opacity="0.5" stroke-width="24.5" stroke-linecap="round" stroke-linejoin="round" filter="url(#sb3)"/>
<polyline points="150,500 300,470 450,520" fill="none" stroke="#a8a8a8" stroke-width="9.799999999999999" stroke-linecap="round" stroke-linejoin="round" filter="url(#sb2)"/>
<polyline points="715,50 705,200 700,350 700,560" fill="none" stroke="#dcdcdc" stroke-opacity="0.5" stroke-width="56.0" stroke-linecap="round" stroke-linejoin="round" filter="url(#sb3)"/>
<polyline points="715,50 705,200 700,350 700,560" fill="none" stroke="#dcdcdc" stroke-width="22.4" stroke-linecap="round" stroke-linejoin="round" filter="url(#sb2)"/>
<polyline points="20,560 150,530 300,540 430,560" fill="none" stroke="#a8a8a8" stroke-opacity="0.5" stroke-width="28.0" stroke-linecap="round" stroke-linejoin="round" filter="url(#sb3)"/>
<polyline points="20,560 150,530 300,540 430,560" fill="none" stroke="#a8a8a8" stroke-width="11.2" stroke-linecap="round" stroke-linejoin="round" filter="url(#sb2)"/>
<polyline points="420,520 550,640 660,760 770,880" fill="none" stroke="#c4c4c4" stroke-opacity="0.5" stroke-width="42.0" stroke-linecap="round" stroke-linejoin="round" filter="url(#sb3)"/>
<polyline points="420,520 550,640 660,760 770,880" fill="none" stroke="#c4c4c4" stroke-width="16.799999999999997" stroke-linecap="round" stroke-linejoin="round" filter="url(#sb2)"/>
<polyline points="520,760 600,840 700,914" fill="none" stroke="#b4b4b4" stroke-opacity="0.5" stroke-width="35.0" stroke-linecap="round" stroke-linejoin="round" filter="url(#sb3)"/>
<polyline points="520,760 600,840 700,914" fill="none" stroke="#b4b4b4" stroke-width="14.0" stroke-linecap="round" stroke-linejoin="round" filter="url(#sb2)"/>
<polyline points="1020,300 1010,450 1030,600" fill="none" stroke="#bcbcbc" stroke-opacity="0.5" stroke-width="38.5" stroke-linecap="round" stroke-linejoin="round" filter="url(#sb3)"/>
<polyline points="1020,300 1010,450 1030,600" fill="none" stroke="#bcbcbc" stroke-width="15.399999999999999" stroke-linecap="round" stroke-linejoin="round" filter="url(#sb2)"/>
<ellipse cx="350" cy="40" rx="50" ry="40" fill="#c8c8c8" filter="url(#sb3)" transform="rotate(0 350 40)"/>
<ellipse cx="1040" cy="180" rx="60" ry="70" fill="#e0e0e0" filter="url(#sb3)" transform="rotate(0 1040 180)"/>
</g>
<g transform="translate(314,1584) scale(0.26247)">
<polygon points="300,0 600,0 600,250 300,250" fill="#4a4a4a" filter="url(#sb)"/>
<polygon points="600,0 1100,0 1100,560 900,520 700,380" fill="#333333" filter="url(#sb)"/>
<polygon points="900,0 1181,0 1181,250 900,250" fill="#5e5e5e" filter="url(#sb)"/>
<polygon points="0,250 600,250 600,650 0,650" fill="#6a6a6a" filter="url(#sb)"/>
<polygon points="0,530 250,530 250,914 0,914" fill="#333333" filter="url(#sb)"/>
<polygon points="620,550 1181,550 1181,914 620,914" fill="#2e2e2e" filter="url(#sb)"/>
<polygon points="250,650 600,650 600,914 250,914" fill="#4a4a4a" filter="url(#sb)"/>
<ellipse cx="75" cy="190" rx="80" ry="60" fill="#1e1e1e" filter="url(#sb3)" transform="rotate(0 75 190)"/>
<polyline points="0,20 110,110 220,200" fill="none" stroke="#d4d4d4" stroke-opacity="0.5" stroke-width="56.0" stroke-linecap="round" stroke-linejoin="round" filter="url(#sb3)"/>
<polyline points="0,20 110,110 220,200" fill="none" stroke="#d4d4d4" stroke-width="22.4" stroke-linecap="round" stroke-linejoin="round" filter="url(#sb2)"/>
<polyline points="300,0 420,100 520,200 620,320 720,420" fill="none" stroke="#c8c8c8" stroke-opacity="0.5" stroke-width="42.0" stroke-linecap="round" stroke-linejoin="round" filter="url(#sb3)"/>
<polyline points="300,0 420,100 520,200 620,320 720,420" fill="none" stroke="#c8c8c8" stroke-width="16.799999999999997" stroke-linecap="round" stroke-linejoin="round" filter="url(#sb2)"/>
<polyline points="480,200 600,290 700,380 820,470 950,560 1030,610 1100,650" fill="none" stroke="#cccccc" stroke-opacity="0.5" stroke-width="42.0" stroke-linecap="round" stroke-linejoin="round" filter="url(#sb3)"/>
<polyline points="480,200 600,290 700,380 820,470 950,560 1030,610 1100,650" fill="none" stroke="#cccccc" stroke-width="16.799999999999997" stroke-linecap="round" stroke-linejoin="round" filter="url(#sb2)"/>
<polyline points="0,800 90,850 180,914" fill="none" stroke="#c0c0c0" stroke-opacity="0.5" stroke-width="42.0" stroke-linecap="round" stroke-linejoin="round" filter="url(#sb3)"/>
<polyline points="0,800 90,850 180,914" fill="none" stroke="#c0c0c0" stroke-width="16.799999999999997" stroke-linecap="round" stroke-linejoin="round" filter="url(#sb2)"/>
<polyline points="560,600 620,700 660,800 700,900" fill="none" stroke="#b0b0b0" stroke-opacity="0.5" stroke-width="31.5" stroke-linecap="round" stroke-linejoin="round" filter="url(#sb3)"/>
<polyline points="560,600 620,700 660,800 700,900" fill="none" stroke="#b0b0b0" stroke-width="12.6" stroke-linecap="round" stroke-linejoin="round" filter="url(#sb2)"/>
<polyline points="1080,300 1120,450 1170,650" fill="none" stroke="#b4b4b4" stroke-opacity="0.5" stroke-width="35.0" stroke-linecap="round" stroke-linejoin="round" filter="url(#sb3)"/>
<polyline points="1080,300 1120,450 1170,650" fill="none" stroke="#b4b4b4" stroke-width="14.0" stroke-linecap="round" stroke-linejoin="round" filter="url(#sb2)"/>
<ellipse cx="330" cy="375" rx="60" ry="50" fill="#a4a4a4" filter="url(#sb3)" transform="rotate(0 330 375)"/>
</g>
</g>
<g style="mix-blend-mode:screen" opacity="0.4"><g transform="rotate(38 318 1586)"><rect x="-100" y="1150" width="840" height="880" filter="url(#veins)"/></g></g>
<rect x="16" y="1351" width="605" height="470" filter="url(#semnoise2)" opacity="0.35"/>
<rect x="16" y="1351" width="605" height="470" filter="url(#semnoise)" opacity="0.18"/>
</g></g>
<rect x="16" y="1821" width="605" height="42" fill="#fff"/>
<line x1="16.5" y1="1821" x2="16.5" y2="1864" stroke="#888" stroke-width="1.5"/>
<line x1="620.5" y1="1821" x2="620.5" y2="1864" stroke="#888" stroke-width="1.5"/>
<text x="28.4" y="1833.5" font-size="11" font-weight="normal" font-style="normal" fill="#555" text-anchor="start" textLength="31.6" lengthAdjust="spacingAndGlyphs">20 µm</text>
<line x1="28" y1="1844.7" x2="110" y2="1844.7" stroke="#777" stroke-width="2.2"/>
<line x1="28" y1="1839" x2="28" y2="1851" stroke="#777" stroke-width="1.5"/>
<line x1="110" y1="1839" x2="110" y2="1851" stroke="#777" stroke-width="1.5"/>
<text x="137.4" y="1838" font-size="11.5" font-weight="normal" font-style="normal" fill="#333" text-anchor="start" textLength="80" lengthAdjust="spacingAndGlyphs" stroke="#333" stroke-width="0.4">EHT = 20.00 kV</text>
<text x="137.4" y="1858" font-size="11.5" font-weight="normal" font-style="normal" fill="#333" text-anchor="start" textLength="75" lengthAdjust="spacingAndGlyphs" stroke="#333" stroke-width="0.4">WD =  7.0 mm</text>
<text x="268.8" y="1838" font-size="11.5" font-weight="normal" font-style="normal" fill="#333" text-anchor="start" textLength="75" lengthAdjust="spacingAndGlyphs" stroke="#333" stroke-width="0.4">Signal A = SE1</text>
<text x="268.8" y="1858" font-size="11.5" font-weight="normal" font-style="normal" fill="#333" text-anchor="start" textLength="86" lengthAdjust="spacingAndGlyphs" stroke="#333" stroke-width="0.4">Mag =   2.00 K X</text>
<text x="408.6" y="1840.5" font-size="11.5" font-weight="normal" font-style="normal" fill="#333" text-anchor="start" textLength="91.4" lengthAdjust="spacingAndGlyphs" stroke="#333" stroke-width="0.4">Date :18 Jun 2019</text>
<text x="408.6" y="1858" font-size="11.5" font-weight="normal" font-style="normal" fill="#333" text-anchor="start" textLength="75" lengthAdjust="spacingAndGlyphs" stroke="#333" stroke-width="0.4">Time :11:28:02</text>
<rect x="560" y="1824.7" width="37" height="39" fill="#555"/>
<rect x="560" y="1836" width="37" height="11" fill="#6a6a6a"/>
<text x="578.5" y="1845.5" font-size="10" font-weight="bold" font-style="normal" fill="#eee" text-anchor="middle" textLength="33" lengthAdjust="spacingAndGlyphs" class="sf">ZEISS</text>
<rect x="685.5" y="1357.5" width="483" height="441" fill="none" stroke="#4a4a4a" stroke-width="2.2"/>
<line x1="679" y1="1768.0" x2="685" y2="1768.0" stroke="#4a4a4a" stroke-width="1.6"/>
<line x1="681" y1="1736.3" x2="685" y2="1736.3" stroke="#4a4a4a" stroke-width="1.6"/>
<line x1="679" y1="1704.7" x2="685" y2="1704.7" stroke="#4a4a4a" stroke-width="1.6"/>
<line x1="681" y1="1673.0" x2="685" y2="1673.0" stroke="#4a4a4a" stroke-width="1.6"/>
<line x1="679" y1="1641.4" x2="685" y2="1641.4" stroke="#4a4a4a" stroke-width="1.6"/>
<line x1="681" y1="1609.8" x2="685" y2="1609.8" stroke="#4a4a4a" stroke-width="1.6"/>
<line x1="679" y1="1578.1" x2="685" y2="1578.1" stroke="#4a4a4a" stroke-width="1.6"/>
<line x1="681" y1="1546.5" x2="685" y2="1546.5" stroke="#4a4a4a" stroke-width="1.6"/>
<line x1="679" y1="1514.8" x2="685" y2="1514.8" stroke="#4a4a4a" stroke-width="1.6"/>
<line x1="681" y1="1483.2" x2="685" y2="1483.2" stroke="#4a4a4a" stroke-width="1.6"/>
<line x1="679" y1="1451.5" x2="685" y2="1451.5" stroke="#4a4a4a" stroke-width="1.6"/>
<line x1="681" y1="1419.8" x2="685" y2="1419.8" stroke="#4a4a4a" stroke-width="1.6"/>
<line x1="679" y1="1388.2" x2="685" y2="1388.2" stroke="#4a4a4a" stroke-width="1.6"/>
<text x="660" y="1776.0" font-size="24" font-weight="normal" font-style="normal" fill="#505050" text-anchor="middle" textLength="24" lengthAdjust="spacingAndGlyphs" class="sf">0.0</text>
<text x="660" y="1712.7" font-size="24" font-weight="normal" font-style="normal" fill="#505050" text-anchor="middle" textLength="24" lengthAdjust="spacingAndGlyphs" class="sf">0.1</text>
<text x="660" y="1649.4" font-size="24" font-weight="normal" font-style="normal" fill="#505050" text-anchor="middle" textLength="24" lengthAdjust="spacingAndGlyphs" class="sf">0.2</text>
<text x="660" y="1586.1" font-size="24" font-weight="normal" font-style="normal" fill="#505050" text-anchor="middle" textLength="24" lengthAdjust="spacingAndGlyphs" class="sf">0.3</text>
<text x="660" y="1522.8" font-size="24" font-weight="normal" font-style="normal" fill="#505050" text-anchor="middle" textLength="24" lengthAdjust="spacingAndGlyphs" class="sf">0.4</text>
<text x="660" y="1459.5" font-size="24" font-weight="normal" font-style="normal" fill="#505050" text-anchor="middle" textLength="24" lengthAdjust="spacingAndGlyphs" class="sf">0.5</text>
<text x="660" y="1396.2" font-size="24" font-weight="normal" font-style="normal" fill="#505050" text-anchor="middle" textLength="24" lengthAdjust="spacingAndGlyphs" class="sf">0.6</text>
<line x1="685.0" y1="1798" x2="685.0" y2="1804" stroke="#4a4a4a" stroke-width="1.6"/>
<line x1="719.6" y1="1798" x2="719.6" y2="1802" stroke="#4a4a4a" stroke-width="1.6"/>
<line x1="754.1" y1="1798" x2="754.1" y2="1804" stroke="#4a4a4a" stroke-width="1.6"/>
<line x1="788.7" y1="1798" x2="788.7" y2="1802" stroke="#4a4a4a" stroke-width="1.6"/>
<line x1="823.3" y1="1798" x2="823.3" y2="1804" stroke="#4a4a4a" stroke-width="1.6"/>
<line x1="857.9" y1="1798" x2="857.9" y2="1802" stroke="#4a4a4a" stroke-width="1.6"/>
<line x1="892.4" y1="1798" x2="892.4" y2="1804" stroke="#4a4a4a" stroke-width="1.6"/>
<line x1="927.0" y1="1798" x2="927.0" y2="1802" stroke="#4a4a4a" stroke-width="1.6"/>
<line x1="961.6" y1="1798" x2="961.6" y2="1804" stroke="#4a4a4a" stroke-width="1.6"/>
<line x1="996.2" y1="1798" x2="996.2" y2="1802" stroke="#4a4a4a" stroke-width="1.6"/>
<line x1="1030.7" y1="1798" x2="1030.7" y2="1804" stroke="#4a4a4a" stroke-width="1.6"/>
<line x1="1065.3" y1="1798" x2="1065.3" y2="1802" stroke="#4a4a4a" stroke-width="1.6"/>
<line x1="1099.9" y1="1798" x2="1099.9" y2="1804" stroke="#4a4a4a" stroke-width="1.6"/>
<line x1="1134.4" y1="1798" x2="1134.4" y2="1802" stroke="#4a4a4a" stroke-width="1.6"/>
<line x1="1169.0" y1="1798" x2="1169.0" y2="1804" stroke="#4a4a4a" stroke-width="1.6"/>
<text x="685.0" y="1831" font-size="24" font-weight="normal" font-style="normal" fill="#505050" text-anchor="middle" textLength="39" lengthAdjust="spacingAndGlyphs" class="sf">4000</text>
<text x="754.1" y="1831" font-size="24" font-weight="normal" font-style="normal" fill="#505050" text-anchor="middle" textLength="39" lengthAdjust="spacingAndGlyphs" class="sf">3500</text>
<text x="823.3" y="1831" font-size="24" font-weight="normal" font-style="normal" fill="#505050" text-anchor="middle" textLength="39" lengthAdjust="spacingAndGlyphs" class="sf">3000</text>
<text x="892.4" y="1831" font-size="24" font-weight="normal" font-style="normal" fill="#505050" text-anchor="middle" textLength="39" lengthAdjust="spacingAndGlyphs" class="sf">2500</text>
<text x="961.6" y="1831" font-size="24" font-weight="normal" font-style="normal" fill="#505050" text-anchor="middle" textLength="39" lengthAdjust="spacingAndGlyphs" class="sf">2000</text>
<text x="1030.7" y="1831" font-size="24" font-weight="normal" font-style="normal" fill="#505050" text-anchor="middle" textLength="39" lengthAdjust="spacingAndGlyphs" class="sf">1500</text>
<text x="1099.9" y="1831" font-size="24" font-weight="normal" font-style="normal" fill="#505050" text-anchor="middle" textLength="39" lengthAdjust="spacingAndGlyphs" class="sf">1000</text>
<text x="1169.0" y="1831" font-size="24" font-weight="normal" font-style="normal" fill="#505050" text-anchor="middle" textLength="30" lengthAdjust="spacingAndGlyphs" class="sf">500</text>
<path d="M685,1471.6 C687.5,1471.5 695.5,1471.3 700.0,1471.0 C704.5,1470.7 708.3,1469.8 712.0,1469.5 C715.7,1469.2 718.8,1468.8 722.0,1469.0 C725.2,1469.2 728.0,1469.8 731.0,1471.0 C734.0,1472.2 736.8,1474.4 740.0,1476.0 C743.2,1477.6 746.7,1479.3 750.0,1480.5 C753.3,1481.7 756.7,1483.1 760.0,1483.0 C763.3,1482.9 766.7,1481.3 770.0,1480.0 C773.3,1478.7 775.8,1476.5 780.0,1475.0 C784.2,1473.5 790.0,1472.3 795.0,1471.0 C800.0,1469.7 804.2,1468.2 810.0,1467.0 C815.8,1465.8 823.3,1465.0 830.0,1464.0 C836.7,1463.0 841.7,1462.2 850.0,1461.0 C858.3,1459.8 871.7,1458.7 880.0,1457.0 C888.3,1455.3 888.3,1453.1 900.0,1450.6 C911.7,1448.1 933.3,1444.8 950.0,1442.0 C966.7,1439.2 989.7,1434.9 1000.0,1434.0 C1010.3,1433.1 1007.8,1437.0 1011.8,1436.4 C1015.8,1435.8 1019.0,1432.0 1023.7,1430.4 C1028.4,1428.8 1034.8,1427.9 1040.0,1427.0 C1045.2,1426.1 1049.8,1425.4 1054.6,1425.2 C1059.4,1425.0 1065.1,1425.2 1069.0,1425.7 C1072.9,1426.2 1075.2,1427.2 1078.0,1428.0 C1080.8,1428.8 1082.8,1430.6 1085.6,1430.4 C1088.4,1430.2 1091.8,1429.2 1095.0,1426.8 C1098.2,1424.4 1099.8,1419.0 1104.6,1416.0 C1109.4,1413.0 1117.7,1411.5 1123.6,1409.0 C1129.5,1406.5 1134.0,1403.8 1140.0,1401.0 C1146.0,1398.2 1155.1,1394.5 1159.3,1392.3 C1163.5,1390.1 1163.4,1389.6 1165.0,1388.0 C1166.6,1386.4 1168.2,1383.7 1168.9,1382.8" fill="none" stroke="#5a5a5a" stroke-width="1.4"/>
<path d="M686,1714 C688.4,1714.0 697.4,1714.4 700.6,1714.0 C703.8,1713.6 701.7,1712.0 705.3,1711.6 C708.9,1711.2 718.0,1710.6 722.0,1711.6 C726.0,1712.6 726.2,1713.3 729.0,1717.5 C731.8,1721.7 735.3,1731.4 738.5,1736.5 C741.7,1741.6 744.8,1745.3 748.0,1748.3 C751.2,1751.3 753.9,1753.5 757.5,1754.3 C761.1,1755.1 764.6,1755.2 769.4,1753.0 C774.1,1750.8 780.9,1746.3 786.0,1741.2 C791.1,1736.1 794.3,1730.5 800.2,1722.2 C806.1,1713.9 815.2,1698.7 821.5,1691.4 C827.8,1684.1 832.1,1682.4 838.0,1678.4 C843.9,1674.5 849.9,1671.5 857.0,1667.7 C864.1,1664.0 871.9,1659.7 880.8,1655.9 C889.7,1652.1 898.6,1649.8 910.6,1645.0 C922.6,1640.2 942.8,1632.4 952.6,1627.1 C962.4,1621.8 964.6,1616.9 969.2,1613.0 C973.8,1609.1 976.5,1606.3 980.0,1603.8 C983.5,1601.3 987.4,1598.5 990.2,1597.9 C993.0,1597.3 994.7,1596.9 997.0,1600.4 C999.3,1603.9 1001.7,1610.6 1003.8,1619.1 C1005.9,1627.6 1008.2,1648.7 1009.8,1651.5 C1011.4,1654.3 1011.9,1644.2 1013.2,1636.0 C1014.5,1627.8 1015.6,1610.8 1017.4,1602.0 C1019.2,1593.2 1020.5,1588.8 1024.2,1583.4 C1027.9,1578.0 1034.2,1574.0 1039.6,1569.8 C1045.0,1565.5 1051.2,1561.5 1056.6,1557.9 C1062.0,1554.4 1067.9,1549.2 1071.9,1548.5 C1075.9,1547.8 1077.6,1554.6 1080.4,1553.6 C1083.2,1552.6 1086.6,1545.0 1088.9,1542.5 C1091.2,1540.0 1091.5,1541.8 1094.0,1538.3 C1096.5,1534.8 1101.4,1524.1 1104.2,1521.3 C1107.0,1518.5 1107.6,1517.8 1111.0,1521.3 C1114.4,1524.8 1120.4,1535.3 1124.7,1542.5 C1129.0,1549.7 1132.6,1560.0 1136.6,1564.7 C1140.6,1569.4 1145.1,1570.3 1148.5,1570.6 C1151.9,1570.9 1154.3,1569.2 1157.0,1566.4 C1159.7,1563.6 1162.8,1554.9 1164.6,1553.6 C1166.4,1552.3 1167.4,1557.8 1168.0,1558.7" fill="none" stroke="#5a5a5a" stroke-width="1.4"/>
<text x="713.6" y="1455" font-size="21" font-weight="bold" font-style="normal" fill="#222" text-anchor="start" textLength="39" lengthAdjust="spacingAndGlyphs">GAC</text>
<text x="719.6" y="1784.4" font-size="21" font-weight="bold" font-style="normal" fill="#222" text-anchor="start" textLength="67.5" lengthAdjust="spacingAndGlyphs">HNGAC</text>
<text x="0" y="0" font-size="18" font-weight="bold" font-style="normal" fill="#222" text-anchor="start" textLength="66.4" lengthAdjust="spacingAndGlyphs" transform="translate(769.9,1553.4) rotate(-90)">3441.14</text>
<text x="0" y="0" font-size="18" font-weight="bold" font-style="normal" fill="#222" text-anchor="start" textLength="66.4" lengthAdjust="spacingAndGlyphs" transform="translate(838.7,1533.2) rotate(-90)">2926.77</text>
<text x="0" y="0" font-size="18" font-weight="bold" font-style="normal" fill="#222" text-anchor="start" textLength="75.0" lengthAdjust="spacingAndGlyphs" transform="translate(1019.5,1517.3) rotate(-90)">1631.49</text>
<text x="0" y="0" font-size="18" font-weight="bold" font-style="normal" fill="#222" text-anchor="start" textLength="75" lengthAdjust="spacingAndGlyphs" transform="translate(1046.9,1509) rotate(-90)">1451.32</text>
<text x="0" y="0" font-size="18" font-weight="bold" font-style="normal" fill="#222" text-anchor="start" textLength="74" lengthAdjust="spacingAndGlyphs" transform="translate(1093.3,1509) rotate(-90)">1101.20</text>
<text x="0" y="0" font-size="18" font-weight="bold" font-style="normal" fill="#222" text-anchor="start" textLength="64.3" lengthAdjust="spacingAndGlyphs" transform="translate(1132.5,1481.6) rotate(-90)">796.79</text>
<text x="0" y="0" font-size="18" font-weight="bold" font-style="normal" fill="#222" text-anchor="start" textLength="75.9" lengthAdjust="spacingAndGlyphs" transform="translate(769.9,1750.7) rotate(-90)">3448.39</text>
<text x="0" y="0" font-size="18" font-weight="bold" font-style="normal" fill="#222" text-anchor="start" textLength="72.7" lengthAdjust="spacingAndGlyphs" transform="translate(1013.9,1734.2) rotate(-90)">1635.79</text>
<text x="0" y="0" font-size="18" font-weight="bold" font-style="normal" fill="#222" text-anchor="start" textLength="74.8" lengthAdjust="spacingAndGlyphs" transform="translate(1054.6,1648) rotate(-90)">1407.10</text>
<text x="0" y="0" font-size="18" font-weight="bold" font-style="normal" fill="#222" text-anchor="start" textLength="73.1" lengthAdjust="spacingAndGlyphs" transform="translate(1086.9,1631) rotate(-90)">1198.79</text>
<text x="0" y="0" font-size="18" font-weight="bold" font-style="normal" fill="#222" text-anchor="start" textLength="73.1" lengthAdjust="spacingAndGlyphs" transform="translate(1102.2,1631) rotate(-90)">1118.88</text>
<text x="0" y="0" font-size="18" font-weight="bold" font-style="normal" fill="#222" text-anchor="start" textLength="64.7" lengthAdjust="spacingAndGlyphs" transform="translate(1157.5,1643) rotate(-90)">607.50</text>
<text x="0" y="0" font-size="20" font-weight="bold" font-style="normal" fill="#222" text-anchor="start" textLength="152" lengthAdjust="spacingAndGlyphs" class="sf" transform="translate(639.5,1636) rotate(-90)">Transmittance</text>
<text x="841.7" y="1865" font-size="22" font-weight="bold" font-style="normal" fill="#222" text-anchor="start" textLength="157" lengthAdjust="spacingAndGlyphs" class="sf">Wavenumber, cm</text>
<text x="1002" y="1854" font-size="12" font-weight="bold" font-style="normal" fill="#222" text-anchor="start" textLength="8" lengthAdjust="spacingAndGlyphs" class="sf">-1</text>
<rect x="0" y="0" width="1181" height="8" fill="#000"/>
<rect x="0" y="1882" width="1181" height="8" fill="#000"/>
</svg>
</body></html>
